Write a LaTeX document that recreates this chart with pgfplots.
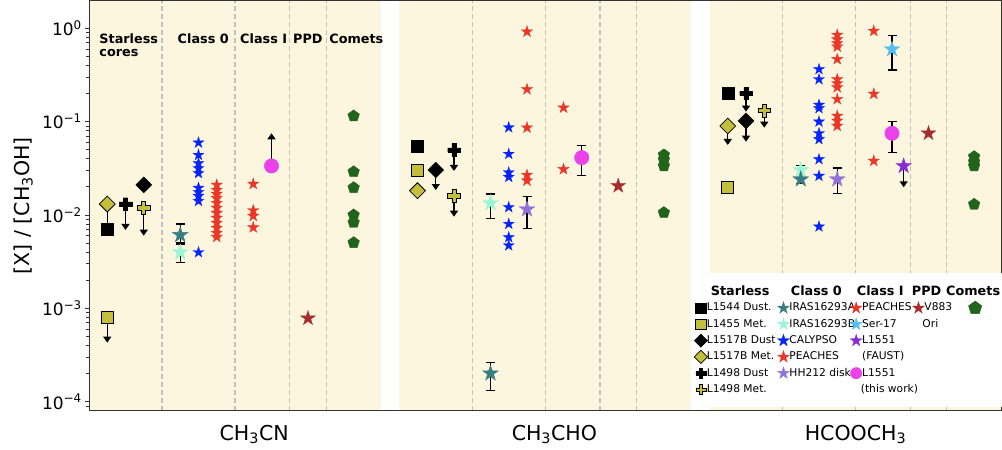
\documentclass[border=0pt]{standalone}
\usepackage{fontspec}
\setmainfont{DejaVu Sans}
\usepackage{pgfplots}
\pgfplotsset{compat=1.18}
\usetikzlibrary{arrows.meta}

\definecolor{bgc}{RGB}{253,246,222}
\definecolor{olv}{RGB}{195,190,60}
\definecolor{tealc}{RGB}{56,125,130}
\definecolor{aquac}{RGB}{155,245,215}
\definecolor{bluec}{RGB}{5,35,250}
\definecolor{redc}{RGB}{234,55,40}
\definecolor{hhc}{RGB}{145,115,215}
\definecolor{serc}{RGB}{85,190,240}
\definecolor{fauc}{RGB}{135,45,210}
\definecolor{magc}{RGB}{235,65,235}
\definecolor{v883c}{RGB}{165,45,45}
\definecolor{cometc}{RGB}{35,100,28}
\definecolor{dashc}{RGB}{192,192,192}

\pgfdeclareplotmark{fstar}{%
 \pgfpathmoveto{\pgfqpointpolar{90}{\pgfplotmarksize}}%
 \pgfpathlineto{\pgfqpointpolar{126}{0.382\pgfplotmarksize}}%
 \pgfpathlineto{\pgfqpointpolar{162}{\pgfplotmarksize}}%
 \pgfpathlineto{\pgfqpointpolar{198}{0.382\pgfplotmarksize}}%
 \pgfpathlineto{\pgfqpointpolar{234}{\pgfplotmarksize}}%
 \pgfpathlineto{\pgfqpointpolar{270}{0.382\pgfplotmarksize}}%
 \pgfpathlineto{\pgfqpointpolar{306}{\pgfplotmarksize}}%
 \pgfpathlineto{\pgfqpointpolar{342}{0.382\pgfplotmarksize}}%
 \pgfpathlineto{\pgfqpointpolar{18}{\pgfplotmarksize}}%
 \pgfpathlineto{\pgfqpointpolar{54}{0.382\pgfplotmarksize}}%
 \pgfpathclose
 \pgfusepathqfillstroke}

\pgfdeclareplotmark{Pplus}{%
 \pgfpathmoveto{\pgfqpoint{-0.33\pgfplotmarksize}{\pgfplotmarksize}}%
 \pgfpathlineto{\pgfqpoint{0.33\pgfplotmarksize}{\pgfplotmarksize}}%
 \pgfpathlineto{\pgfqpoint{0.33\pgfplotmarksize}{0.33\pgfplotmarksize}}%
 \pgfpathlineto{\pgfqpoint{\pgfplotmarksize}{0.33\pgfplotmarksize}}%
 \pgfpathlineto{\pgfqpoint{\pgfplotmarksize}{-0.33\pgfplotmarksize}}%
 \pgfpathlineto{\pgfqpoint{0.33\pgfplotmarksize}{-0.33\pgfplotmarksize}}%
 \pgfpathlineto{\pgfqpoint{0.33\pgfplotmarksize}{-\pgfplotmarksize}}%
 \pgfpathlineto{\pgfqpoint{-0.33\pgfplotmarksize}{-\pgfplotmarksize}}%
 \pgfpathlineto{\pgfqpoint{-0.33\pgfplotmarksize}{-0.33\pgfplotmarksize}}%
 \pgfpathlineto{\pgfqpoint{-\pgfplotmarksize}{-0.33\pgfplotmarksize}}%
 \pgfpathlineto{\pgfqpoint{-\pgfplotmarksize}{0.33\pgfplotmarksize}}%
 \pgfpathlineto{\pgfqpoint{-0.33\pgfplotmarksize}{0.33\pgfplotmarksize}}%
 \pgfpathclose
 \pgfusepathqfillstroke}

\newcommand{\hfont}{\fontsize{12.8}{15}\selectfont\bfseries}
\newcommand{\Hd}[3]{\makebox[#1][l]{\hspace*{#2}\rule[-2pt]{0pt}{9pt}{\hfont #3}}}
\newcommand{\Le}[2]{\makebox[#1][l]{\rule[-2pt]{0pt}{9pt}#2}}

\pgfplotsset{
 mylimg/.style={legend image code/.code={\draw[##1,overlay] plot coordinates {(0pt,0pt)};\pgfpathrectangle{\pgfqpoint{-6pt}{-5.5pt}}{\pgfqpoint{12pt}{11pt}}\pgfusepath{}}},
 ebar/.style={black, line width=1.3pt, {Bar[width=9pt]}-{Bar[width=9pt]}, forget plot},
 uarr/.style={black, line width=1.4pt, -{Triangle[length=6pt,width=8pt]}, forget plot},
}

\begin{document}
\begin{tikzpicture}
\begin{axis}[
  at={(89pt,39.3pt)}, anchor=south west,
  scale only axis, width=912.5pt, height=410.2pt,
  xmin=0, xmax=50, ymode=log, ymin=8.0e-5, ymax=1.985,
  axis on top,
  axis line style={line width=0.9pt, black!80},
  tick align=outside,
  ytick pos=left, xtick pos=bottom,
  major tick length=4pt, minor tick length=2.5pt,
  every tick/.style={black!80, line width=0.8pt},
  ytick={1e-4,1e-3,1e-2,1e-1,1},
  yticklabels={10\textsuperscript{−4},10\textsuperscript{−3},10\textsuperscript{−2},10\textsuperscript{−1},10\textsuperscript{0}},
  minor ytick={9e-5,2e-4,3e-4,4e-4,5e-4,6e-4,7e-4,8e-4,9e-4,2e-3,3e-3,4e-3,5e-3,6e-3,7e-3,8e-3,9e-3,2e-2,3e-2,4e-2,5e-2,6e-2,7e-2,8e-2,9e-2,0.2,0.3,0.4,0.5,0.6,0.7,0.8,0.9},
  yticklabel style={font=\fontsize{17}{20}\selectfont, inner sep=0pt, xshift=-3pt},
  xtick={9.05,25.5,42},
  xticklabels={CH\textsubscript{3}CN,CH\textsubscript{3}CHO,HCOOCH\textsubscript{3}},
  xtick style={draw=none},
  xticklabel style={font=\fontsize{20.5}{24}\selectfont, inner sep=0pt, yshift=-10pt},
  ylabel={[X] / [CH\textsubscript{3}OH]},
  every axis y label/.style={at={(axis description cs:-0.0614,0.5)}, rotate=90, anchor=south, inner sep=0pt, font=\fontsize{20.5}{24}\selectfont},
  legend columns=5, legend cell align=left,
  mylimg,
  legend style={at={(0.6608,0.3357)}, anchor=north west, draw=none, fill=white,
    inner xsep=2.7pt, inner ysep=12.3pt, column sep=0pt, row sep=5.3pt,
    nodes={inner sep=0pt, text depth={}}, font=\fontsize{10.7}{12.8}\selectfont},
]
% shaded regions
\fill[bgc] (axis cs:0,8.0e-5) rectangle (axis cs:16,1.985);
\fill[bgc] (axis cs:17,8.0e-5) rectangle (axis cs:33,1.985);
\fill[bgc] (axis cs:34,8.0e-5) rectangle (axis cs:50,1.985);
\pgfplotsinvokeforeach{4,8,11,13,21,25,28,30,38,42,45,47}{
  \draw[dashc, line width=1.2pt, dash pattern=on 5pt off 3pt] (axis cs:#1,8.0e-5) -- (axis cs:#1,1.985);
}
% headers
\node[anchor=base west, font=\hfont, inner sep=0pt] at (axis cs:0.56,0.6906) {Starless};
\node[anchor=base west, font=\hfont, inner sep=0pt] at (axis cs:0.56,0.4963) {cores};
\node[anchor=base, font=\hfont, inner sep=0pt] at (axis cs:6.26,0.6906) {Class 0};
\node[anchor=base, font=\hfont, inner sep=0pt] at (axis cs:9.57,0.6906) {Class I};
\node[anchor=base, font=\hfont, inner sep=0pt] at (axis cs:11.99,0.6906) {PPD};
\node[anchor=base, font=\hfont, inner sep=0pt] at (axis cs:14.65,0.6906) {Comets};

% error bars
\addplot[ebar] coordinates {(5,0.00815) (5,0.00498)};
\addplot[ebar] coordinates {(5,0.00498) (5,0.00304)};
\addplot[ebar] coordinates {(22,0.000268) (22,0.000130)};
\addplot[ebar] coordinates {(22,0.0171) (22,0.0090)};
\addplot[ebar] coordinates {(24,0.0161) (24,0.00703)};
\addplot[ebar] coordinates {(27,0.0562) (27,0.0262)};
\addplot[ebar] coordinates {(39,0.0343) (39,0.0215)};
\addplot[ebar] coordinates {(41,0.0324) (41,0.0167)};
\addplot[ebar] coordinates {(44,0.848) (44,0.351)};
\addplot[ebar] coordinates {(44,0.102) (44,0.0458)};
% limit arrows
\addplot[uarr] coordinates {(1,0.00079) (1,0.000429)};
\addplot[uarr] coordinates {(1,0.0131) (1,0.00705)};
\addplot[uarr] coordinates {(2,0.0131) (2,0.00691)};
\addplot[uarr] coordinates {(3,0.0119) (3,0.00600)};
\addplot[uarr] coordinates {(19,0.0303) (19,0.0185)};
\addplot[uarr] coordinates {(20,0.0497) (20,0.0296)};
\addplot[uarr] coordinates {(20,0.0160) (20,0.00959)};
\addplot[uarr] coordinates {(36,0.102) (36,0.0610)};
\addplot[uarr] coordinates {(35,0.0898) (35,0.0562)};
\addplot[uarr] coordinates {(36,0.201) (36,0.128)};
\addplot[uarr] coordinates {(37,0.131) (37,0.0861)};
\addplot[uarr] coordinates {(44.64,0.0335) (44.64,0.0198)};
\addplot[uarr] coordinates {(10,0.0335) (10,0.0750)};

% Starless
\addplot[only marks, forget plot, mark=square*, mark size=5.6pt, color=olv, mark options={draw=black, fill=olv, line width=0.8pt, rotate=45}] coordinates {(1,0.0131) (18,0.0182) (35,0.0898)};
\addplot[only marks, forget plot, mark=square*, mark size=6pt, black] coordinates {(1,0.00703) (18,0.0548) (35,0.201)};
\addplot[only marks, forget plot, mark=square*, mark size=6pt, mark options={fill=olv, draw=black, line width=0.8pt}] coordinates {(1,0.00079) (18,0.0298) (35,0.0198)};
\addplot[only marks, forget plot, mark=square*, mark size=5.6pt, black, mark options={rotate=45}] coordinates {(3,0.0210) (19,0.0303) (36,0.102)};
\addplot[only marks, forget plot, mark=Pplus, mark size=6.3pt, black] coordinates {(2,0.0131) (20,0.0497) (36,0.201)};
\addplot[only marks, forget plot, mark=Pplus, mark size=6.3pt, mark options={fill=olv, draw=black, line width=0.7pt}] coordinates {(3,0.0119) (20,0.0160) (37,0.131)};

% Class 0
\addplot[only marks, forget plot, mark=fstar, mark size=8.4pt, color=aquac, mark options={line width=0.3pt}] coordinates {(5,0.00398) (22,0.0134) (39,0.0303)};
\addplot[only marks, forget plot, mark=fstar, mark size=8.4pt, color=tealc, mark options={line width=0.3pt}] coordinates {(5,0.00611) (22,0.000201) (39,0.0241)};
\addplot[only marks, forget plot, mark=fstar, mark size=5.8pt, color=bluec, mark options={line width=0.3pt}] coordinates {
 (6,0.0595) (6,0.0439) (6,0.0358) (6,0.0316) (6,0.0280) (6,0.0195) (6,0.0176) (6,0.0160) (6,0.0141) (6,0.00398)
 (23,0.0866) (23,0.0450) (23,0.0285) (23,0.0255) (23,0.0121) (23,0.00801) (23,0.00577) (23,0.00471)
 (40,0.364) (40,0.284) (40,0.151) (40,0.139) (40,0.0999) (40,0.0750) (40,0.0647) (40,0.0395) (40,0.0262) (40,0.00750)};
\addplot[only marks, forget plot, mark=fstar, mark size=6pt, color=redc, mark options={line width=0.3pt}] coordinates {
 (7,0.0210) (7,0.0185) (7,0.0168) (7,0.0152) (7,0.0134) (7,0.0119) (7,0.0105) (7,0.00929) (7,0.00820) (7,0.00726) (7,0.00641) (7,0.00581)
 (24,0.920) (24,0.222) (24,0.0861) (24,0.0268) (24,0.0233)
 (41,0.848) (41,0.762) (41,0.690) (41,0.635) (41,0.466) (41,0.284) (41,0.257) (41,0.233) (41,0.174) (41,0.115) (41,0.102) (41,0.0898)};
\addplot[only marks, forget plot, mark=fstar, mark size=8.4pt, color=hhc, mark options={line width=0.3pt}] coordinates {(24,0.0115) (41,0.0241)};

% Class I
\addplot[only marks, forget plot, mark=fstar, mark size=6pt, color=redc, mark options={line width=0.3pt}] coordinates {
 (9,0.0215) (9,0.0112) (9,0.00976) (9,0.00735) (26,0.141) (26,0.0309) (43,0.936) (43,0.198) (43,0.0379)};
\addplot[only marks, forget plot, mark=fstar, mark size=8.2pt, color=serc, mark options={line width=0.3pt}] coordinates {(44,0.596)};
\addplot[only marks, forget plot, mark=fstar, mark size=8.2pt, color=fauc, mark options={line width=0.3pt}] coordinates {(44.64,0.0335)};
\addplot[only marks, forget plot, mark=*, mark size=7.2pt, color=magc] coordinates {(10,0.0335) (27,0.0411) (44,0.0750)};

% PPD
\addplot[only marks, forget plot, mark=fstar, mark size=7.8pt, color=v883c, mark options={line width=0.3pt}] coordinates {(12,0.000782) (29,0.0205) (46,0.0750)};

% Comets
\addplot[only marks, forget plot, mark=pentagon*, mark size=6.1pt, color=cometc] coordinates {
 (14.5,0.115) (14.5,0.029) (14.5,0.0196) (14.5,0.0100) (14.5,0.0083) (14.5,0.00505)
 (31.5,0.0440) (31.5,0.0390) (31.5,0.0335) (31.5,0.0106)
 (48.5,0.0421) (48.5,0.0370) (48.5,0.0335) (48.5,0.0130)};

% legend
\addlegendimage{empty legend}\addlegendentry{\Hd{70.6pt}{4pt}{Starless}}
\addlegendimage{empty legend}\addlegendentry{\Hd{60.7pt}{1.4pt}{Class 0}}
\addlegendimage{empty legend}\addlegendentry{\Hd{50.3pt}{-5.3pt}{Class I}}
\addlegendimage{empty legend}\addlegendentry{\Hd{44.7pt}{-12.6pt}{PPD}}
\addlegendimage{empty legend}\addlegendentry{\Hd{18pt}{-35pt}{Comets}}

\addlegendimage{mark=square*, black, mark size=5.2pt}\addlegendentry{\Le{70.6pt}{L1544 Dust.}}
\addlegendimage{mark=fstar, mark size=6.2pt, color=tealc}\addlegendentry{\Le{60.7pt}{IRAS16293A}}
\addlegendimage{mark=fstar, mark size=6pt, color=redc}\addlegendentry{\Le{50.3pt}{PEACHES}}
\addlegendimage{mark=fstar, mark size=6.2pt, color=v883c}\addlegendentry{\Le{44.7pt}{V883}}
\addlegendimage{mark=pentagon*, mark size=7pt, color=cometc}\addlegendentry{\Le{18pt}{}}

\addlegendimage{mark=square*, mark size=5.2pt, mark options={fill=olv, draw=black, line width=0.7pt}}\addlegendentry{\Le{70.6pt}{L1455 Met.}}
\addlegendimage{mark=fstar, mark size=6.2pt, color=aquac}\addlegendentry{\Le{60.7pt}{IRAS16293B}}
\addlegendimage{mark=fstar, mark size=6.2pt, color=serc}\addlegendentry{\Le{50.3pt}{Ser-17}}
\addlegendimage{empty legend}\addlegendentry{\Le{44.7pt}{\hspace*{-2pt}Ori}}
\addlegendimage{empty legend}\addlegendentry{\Le{18pt}{}}

\addlegendimage{mark=square*, mark size=4.7pt, black, mark options={rotate=45}}\addlegendentry{\Le{70.6pt}{L1517B Dust}}
\addlegendimage{mark=fstar, mark size=6.2pt, color=bluec}\addlegendentry{\Le{60.7pt}{CALYPSO}}
\addlegendimage{mark=fstar, mark size=6.2pt, color=fauc}\addlegendentry{\Le{50.3pt}{L1551}}
\addlegendimage{empty legend}\addlegendentry{\Le{44.7pt}{}}
\addlegendimage{empty legend}\addlegendentry{\Le{18pt}{}}

\addlegendimage{mark=square*, mark size=4.7pt, mark options={rotate=45, fill=olv, draw=black, line width=0.7pt}}\addlegendentry{\Le{70.6pt}{L1517B Met.}}
\addlegendimage{mark=fstar, mark size=6.2pt, color=redc}\addlegendentry{\Le{60.7pt}{PEACHES}}
\addlegendimage{empty legend}\addlegendentry{\Le{50.3pt}{(FAUST)}}
\addlegendimage{empty legend}\addlegendentry{\Le{44.7pt}{}}
\addlegendimage{empty legend}\addlegendentry{\Le{18pt}{}}

\addlegendimage{mark=Pplus, mark size=5pt, black}\addlegendentry{\Le{70.6pt}{L1498 Dust}}
\addlegendimage{mark=fstar, mark size=6.2pt, color=hhc}\addlegendentry{\Le{60.7pt}{HH212 disk}}
\addlegendimage{mark=*, mark size=5.7pt, color=magc}\addlegendentry{\Le{50.3pt}{L1551}}
\addlegendimage{empty legend}\addlegendentry{\Le{44.7pt}{}}
\addlegendimage{empty legend}\addlegendentry{\Le{18pt}{}}

\addlegendimage{mark=Pplus, mark size=5pt, mark options={fill=olv, draw=black, line width=0.7pt}}\addlegendentry{\Le{70.6pt}{L1498 Met.}}
\addlegendimage{empty legend}\addlegendentry{\Le{60.7pt}{}}
\addlegendimage{empty legend}\addlegendentry{\Le{50.3pt}{\hspace*{-1.3pt}(this work)}}
\addlegendimage{empty legend}\addlegendentry{\Le{44.7pt}{}}
\addlegendimage{empty legend}\addlegendentry{\Le{18pt}{}}
\end{axis}
\pgfresetboundingbox
\path (0,0) rectangle (1002pt,450pt);
\end{tikzpicture}
\end{document}
